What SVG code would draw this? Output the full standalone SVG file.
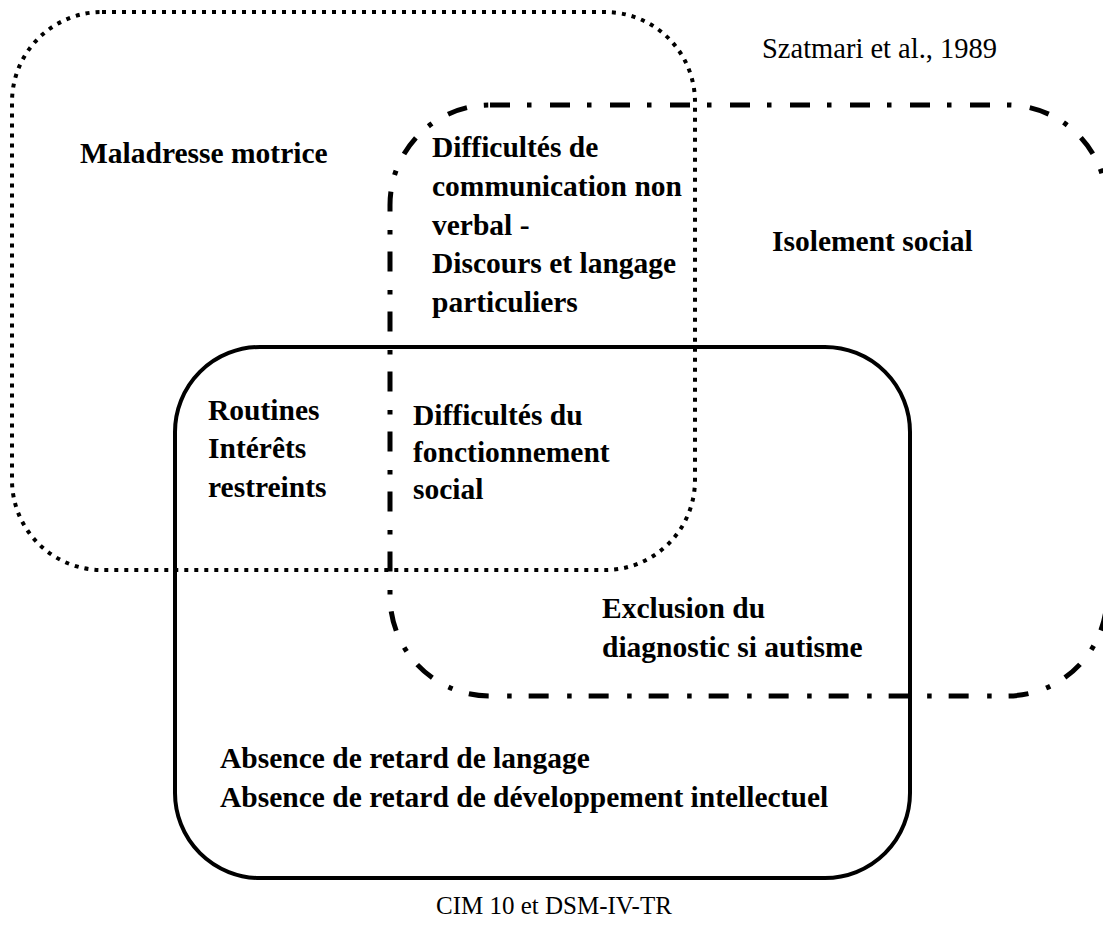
<svg xmlns="http://www.w3.org/2000/svg" width="1103" height="947" viewBox="0 0 1103 947">
<style>
.b{font-family:"Liberation Serif","Times New Roman",serif;font-weight:bold;font-size:29.5px;fill:#000}
.r{font-family:"Liberation Serif","Times New Roman",serif;font-size:28.5px;fill:#000}
.set{fill:none;stroke:#000}
</style>
<rect width="1103" height="947" fill="#fff"/>
<g id="connectors"></g>
<g id="set-szatmari-dotted">
<rect class="set" x="12" y="12" width="683" height="558" rx="90" ry="90" stroke-width="4" stroke-dasharray="4 6"/>
</g>
<g id="set-dashdot">
<rect class="set" x="390" y="105" width="717" height="591" rx="100" ry="100" stroke-width="5" stroke-dasharray="20 17 4.5 18.5"/>
</g>
<g id="set-cim-solid">
<rect class="set" x="175" y="347" width="735" height="531" rx="85" ry="85" stroke-width="4"/>
</g>
<g id="label-szatmari"><text class="r" x="762" y="58">Szatmari et al., 1989</text></g>
<g id="node-maladresse"><text class="b" x="80" y="163">Maladresse motrice</text></g>
<g id="node-communication">
<text class="b" x="432" y="157">Difficultés de</text>
<text class="b" x="432" y="196">communication non</text>
<text class="b" x="432" y="235">verbal -</text>
<text class="b" x="432" y="273">Discours et langage</text>
<text class="b" x="432" y="312">particuliers</text>
</g>
<g id="node-isolement"><text class="b" x="772" y="251">Isolement social</text></g>
<g id="node-routines">
<text class="b" x="208" y="420">Routines</text>
<text class="b" x="208" y="458">Intérêts</text>
<text class="b" x="208" y="497">restreints</text>
</g>
<g id="node-fonctionnement">
<text class="b" x="413" y="425">Difficultés du</text>
<text class="b" x="413" y="462">fonctionnement</text>
<text class="b" x="413" y="499">social</text>
</g>
<g id="node-exclusion">
<text class="b" x="602" y="618">Exclusion du</text>
<text class="b" x="602" y="657">diagnostic si autisme</text>
</g>
<g id="node-absence">
<text class="b" x="220" y="768">Absence de retard de langage</text>
<text class="b" x="220" y="807">Absence de retard de développement intellectuel</text>
</g>
<g id="label-cim"><text class="r" x="436" y="914" style="font-size:25px">CIM 10 et DSM-IV-TR</text></g>
</svg>
